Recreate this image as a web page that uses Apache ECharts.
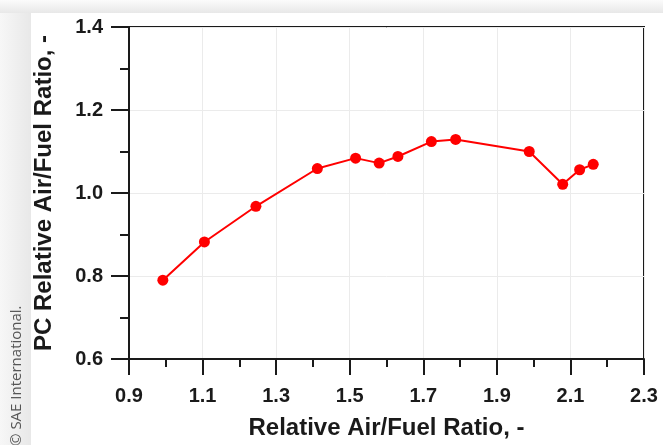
<!DOCTYPE html>
<html>
<head>
<meta charset="utf-8">
<script src="https://cdn.jsdelivr.net/npm/echarts@6/dist/echarts.min.js"></script>
<style>
html,body{margin:0;padding:0;background:#fff;}
#chart{width:663px;height:445px;}
</style>
</head>
<body>
<div id="chart"></div>
<script>
// Data
var lambdaValues = [0.992, 1.105, 1.245, 1.412, 1.516, 1.580, 1.631, 1.722, 1.788, 1.988, 2.079, 2.125, 2.162];
var pcLambdaValues = [0.790, 0.882, 0.968, 1.059, 1.084, 1.072, 1.088, 1.124, 1.129, 1.100, 1.021, 1.056, 1.069];
var xTickLabels = ['0.9', '1.1', '1.3', '1.5', '1.7', '1.9', '2.1', '2.3'];
var yTickLabels = ['0.6', '0.8', '1.0', '1.2', '1.4'];
var xTitle = 'Relative Air/Fuel Ratio, -';
var yTitle = 'PC Relative Air/Fuel Ratio, -';
var credit = '\u00A9 SAE International.';

var points = lambdaValues.map(function (x, i) { return [x, pcLambdaValues[i]]; });

var chart = echarts.init(document.getElementById('chart'), null, { renderer: 'canvas' });

var labelFont = { fontFamily: 'Liberation Sans, Arial, sans-serif', fontWeight: 'bold', color: '#1a1a1a' };

chart.setOption({
  animation: false,
  backgroundColor: '#ffffff',
  graphic: [
    {
      type: 'rect', left: 0, top: 0, z: -10,
      shape: { x: 0, y: 0, width: 31, height: 445 },
      style: { fill: new echarts.graphic.LinearGradient(0, 0, 1, 0, [{ offset: 0, color: '#f7f7f7' }, { offset: 1, color: '#e8e8e8' }]) }
    },
    {
      type: 'rect', left: 0, top: 0, z: -10,
      shape: { x: 0, y: 0, width: 663, height: 13 },
      style: { fill: new echarts.graphic.LinearGradient(0, 0, 0, 1, [{ offset: 0, color: '#fbfbfb' }, { offset: 1, color: '#e8e8e8' }]) }
    },
    {
      type: 'text', x: 24, y: 446, rotation: Math.PI / 2, z: 10,
      style: { text: credit, fontFamily: 'Open Sans, sans-serif', fontSize: 15, fill: '#555555', align: 'left', verticalAlign: 'bottom' }
    }
  ],
  grid: {
    left: 129, right: 19, top: 27, bottom: 85,
    show: true, borderColor: '#1a1a1a', borderWidth: 2, backgroundColor: 'transparent'
  },
  xAxis: {
    type: 'value', min: 0.9, max: 2.3, interval: 0.2,
    name: xTitle, nameLocation: 'middle', nameGap: 57,
    nameTextStyle: Object.assign({ fontSize: 24 }, labelFont),
    axisLine: { show: true, onZero: false, lineStyle: { color: '#1a1a1a', width: 2 } },
    axisTick: { show: true, inside: false, length: 16, lineStyle: { color: '#1a1a1a', width: 2 } },
    minorTick: { show: true, splitNumber: 2, length: 8, lineStyle: { color: '#1a1a1a', width: 2 } },
    splitLine: { show: true, lineStyle: { color: '#ebebeb', width: 1 } },
    axisLabel: Object.assign({
      fontSize: 20, margin: 27,
      formatter: function (v) { var s = v.toFixed(1); return xTickLabels.indexOf(s) >= 0 ? s : ''; }
    }, labelFont)
  },
  yAxis: {
    type: 'value', min: 0.6, max: 1.4, interval: 0.2,
    name: yTitle, nameLocation: 'middle', nameGap: 73, nameRotate: 90,
    nameTextStyle: Object.assign({ fontSize: 24 }, labelFont),
    axisLine: { show: true, onZero: false, lineStyle: { color: '#1a1a1a', width: 2 } },
    axisTick: { show: true, inside: false, length: 18, lineStyle: { color: '#1a1a1a', width: 2 } },
    minorTick: { show: true, splitNumber: 2, length: 9, lineStyle: { color: '#1a1a1a', width: 2 } },
    splitLine: { show: true, lineStyle: { color: '#ebebeb', width: 1 } },
    axisLabel: Object.assign({
      fontSize: 20, margin: 26,
      formatter: function (v) { var s = v.toFixed(1); return yTickLabels.indexOf(s) >= 0 ? s : ''; }
    }, labelFont)
  },
  series: [{
    type: 'line',
    data: points,
    symbol: 'circle',
    symbolSize: 11,
    lineStyle: { color: '#ff0000', width: 2 },
    itemStyle: { color: '#ff0000' },
    z: 5
  }]
});
</script>
</body>
</html>
